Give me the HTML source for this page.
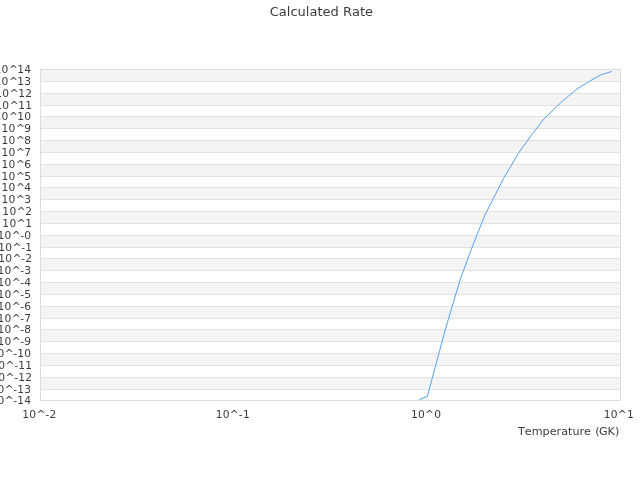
<!DOCTYPE html>
<html lang="en"><head><meta charset="utf-8"><title>Calculated Rate</title>
<style>html,body{margin:0;padding:0;background:#fff;overflow:hidden}svg{display:block;will-change:transform}text{font-kerning:none;font-family:"DejaVu Sans","Liberation Sans",sans-serif;fill:#3c3c3c}.t{font-size:10.67px;letter-spacing:0.23px}</style></head><body>
<svg width="640" height="480" viewBox="0 0 640 480">
<rect x="0" y="0" width="640" height="480" fill="#ffffff"/>
<rect x="40" y="69" width="580" height="12" fill="#f4f4f4" shape-rendering="crispEdges"/>
<rect x="40" y="93" width="580" height="12" fill="#f4f4f4" shape-rendering="crispEdges"/>
<rect x="40" y="116" width="580" height="12" fill="#f4f4f4" shape-rendering="crispEdges"/>
<rect x="40" y="140" width="580" height="12" fill="#f4f4f4" shape-rendering="crispEdges"/>
<rect x="40" y="164" width="580" height="12" fill="#f4f4f4" shape-rendering="crispEdges"/>
<rect x="40" y="187" width="580" height="12" fill="#f4f4f4" shape-rendering="crispEdges"/>
<rect x="40" y="211" width="580" height="12" fill="#f4f4f4" shape-rendering="crispEdges"/>
<rect x="40" y="235" width="580" height="12" fill="#f4f4f4" shape-rendering="crispEdges"/>
<rect x="40" y="258" width="580" height="12" fill="#f4f4f4" shape-rendering="crispEdges"/>
<rect x="40" y="282" width="580" height="12" fill="#f4f4f4" shape-rendering="crispEdges"/>
<rect x="40" y="306" width="580" height="12" fill="#f4f4f4" shape-rendering="crispEdges"/>
<rect x="40" y="329" width="580" height="12" fill="#f4f4f4" shape-rendering="crispEdges"/>
<rect x="40" y="353" width="580" height="12" fill="#f4f4f4" shape-rendering="crispEdges"/>
<rect x="40" y="377" width="580" height="12" fill="#f4f4f4" shape-rendering="crispEdges"/>
<rect x="40" y="69" width="581" height="1" fill="#dcdcdc" shape-rendering="crispEdges"/>
<rect x="40" y="81" width="581" height="1" fill="#e2e2e2" shape-rendering="crispEdges"/>
<rect x="40" y="93" width="581" height="1" fill="#e2e2e2" shape-rendering="crispEdges"/>
<rect x="40" y="105" width="581" height="1" fill="#e2e2e2" shape-rendering="crispEdges"/>
<rect x="40" y="116" width="581" height="1" fill="#e2e2e2" shape-rendering="crispEdges"/>
<rect x="40" y="128" width="581" height="1" fill="#e2e2e2" shape-rendering="crispEdges"/>
<rect x="40" y="140" width="581" height="1" fill="#e2e2e2" shape-rendering="crispEdges"/>
<rect x="40" y="152" width="581" height="1" fill="#e2e2e2" shape-rendering="crispEdges"/>
<rect x="40" y="164" width="581" height="1" fill="#e2e2e2" shape-rendering="crispEdges"/>
<rect x="40" y="176" width="581" height="1" fill="#e2e2e2" shape-rendering="crispEdges"/>
<rect x="40" y="187" width="581" height="1" fill="#e2e2e2" shape-rendering="crispEdges"/>
<rect x="40" y="199" width="581" height="1" fill="#e2e2e2" shape-rendering="crispEdges"/>
<rect x="40" y="211" width="581" height="1" fill="#e2e2e2" shape-rendering="crispEdges"/>
<rect x="40" y="223" width="581" height="1" fill="#e2e2e2" shape-rendering="crispEdges"/>
<rect x="40" y="235" width="581" height="1" fill="#e2e2e2" shape-rendering="crispEdges"/>
<rect x="40" y="247" width="581" height="1" fill="#e2e2e2" shape-rendering="crispEdges"/>
<rect x="40" y="258" width="581" height="1" fill="#e2e2e2" shape-rendering="crispEdges"/>
<rect x="40" y="270" width="581" height="1" fill="#e2e2e2" shape-rendering="crispEdges"/>
<rect x="40" y="282" width="581" height="1" fill="#e2e2e2" shape-rendering="crispEdges"/>
<rect x="40" y="294" width="581" height="1" fill="#e2e2e2" shape-rendering="crispEdges"/>
<rect x="40" y="306" width="581" height="1" fill="#e2e2e2" shape-rendering="crispEdges"/>
<rect x="40" y="318" width="581" height="1" fill="#e2e2e2" shape-rendering="crispEdges"/>
<rect x="40" y="329" width="581" height="1" fill="#e2e2e2" shape-rendering="crispEdges"/>
<rect x="40" y="341" width="581" height="1" fill="#e2e2e2" shape-rendering="crispEdges"/>
<rect x="40" y="353" width="581" height="1" fill="#e2e2e2" shape-rendering="crispEdges"/>
<rect x="40" y="365" width="581" height="1" fill="#e2e2e2" shape-rendering="crispEdges"/>
<rect x="40" y="377" width="581" height="1" fill="#e2e2e2" shape-rendering="crispEdges"/>
<rect x="40" y="389" width="581" height="1" fill="#e2e2e2" shape-rendering="crispEdges"/>
<rect x="40" y="400" width="581" height="1" fill="#dcdcdc" shape-rendering="crispEdges"/>
<rect x="40" y="69" width="1" height="332" fill="#dcdcdc" shape-rendering="crispEdges"/>
<rect x="620" y="69" width="1" height="332" fill="#dcdcdc" shape-rendering="crispEdges"/>
<text class="t" x="31.08" y="72.60" dx="0.3 0 0.45 -0.75" text-anchor="end">10^14</text>
<text class="t" x="31.08" y="84.60" dx="0.3 0 0.45 -0.75" text-anchor="end">10^13</text>
<text class="t" x="31.98" y="96.60" dx="0.3 0 0.45 -0.75" text-anchor="end">10^12</text>
<text class="t" x="31.98" y="108.60" dx="0.3 0 0.45 -0.75" text-anchor="end">10^11</text>
<text class="t" x="31.08" y="119.60" dx="0.3 0 0.45 -0.75" text-anchor="end">10^10</text>
<text class="t" x="31.08" y="131.60" dx="0.3 0 0.45 -0.75" text-anchor="end">10^9</text>
<text class="t" x="31.08" y="143.60" dx="0.3 0 0.45 -0.75" text-anchor="end">10^8</text>
<text class="t" x="31.08" y="155.60" dx="0.3 0 0.45 -0.75" text-anchor="end">10^7</text>
<text class="t" x="31.08" y="167.60" dx="0.3 0 0.45 -0.75" text-anchor="end">10^6</text>
<text class="t" x="31.08" y="179.60" dx="0.3 0 0.45 -0.75" text-anchor="end">10^5</text>
<text class="t" x="31.08" y="190.60" dx="0.3 0 0.45 -0.75" text-anchor="end">10^4</text>
<text class="t" x="31.08" y="202.60" dx="0.3 0 0.45 -0.75" text-anchor="end">10^3</text>
<text class="t" x="31.98" y="214.60" dx="0.3 0 0.45 -0.75" text-anchor="end">10^2</text>
<text class="t" x="31.98" y="226.60" dx="0.3 0 0.45 -0.75" text-anchor="end">10^1</text>
<text class="t" x="31.08" y="238.60" dx="0.3 0 0.25 -0.55" text-anchor="end">10^-0</text>
<text class="t" x="31.98" y="250.60" dx="0.3 0 0.25 -0.55" text-anchor="end">10^-1</text>
<text class="t" x="31.98" y="261.60" dx="0.3 0 0.25 -0.55" text-anchor="end">10^-2</text>
<text class="t" x="31.08" y="273.60" dx="0.3 0 0.25 -0.55" text-anchor="end">10^-3</text>
<text class="t" x="31.08" y="285.60" dx="0.3 0 0.25 -0.55" text-anchor="end">10^-4</text>
<text class="t" x="31.08" y="297.60" dx="0.3 0 0.25 -0.55" text-anchor="end">10^-5</text>
<text class="t" x="31.08" y="309.60" dx="0.3 0 0.25 -0.55" text-anchor="end">10^-6</text>
<text class="t" x="31.08" y="321.60" dx="0.3 0 0.25 -0.55" text-anchor="end">10^-7</text>
<text class="t" x="31.08" y="332.60" dx="0.3 0 0.25 -0.55" text-anchor="end">10^-8</text>
<text class="t" x="31.08" y="344.60" dx="0.3 0 0.25 -0.55" text-anchor="end">10^-9</text>
<text class="t" x="31.08" y="356.60" dx="0.3 0 0.25 -0.55" text-anchor="end">10^-10</text>
<text class="t" x="31.98" y="368.60" dx="0.3 0 0.25 -0.55" text-anchor="end">10^-11</text>
<text class="t" x="31.98" y="380.60" dx="0.3 0 0.25 -0.55" text-anchor="end">10^-12</text>
<text class="t" x="31.08" y="392.60" dx="0.3 0 0.25 -0.55" text-anchor="end">10^-13</text>
<text class="t" x="31.08" y="403.60" dx="0.3 0 0.25 -0.55" text-anchor="end">10^-14</text>
<text class="t" x="39.50" y="417.5" text-anchor="middle">10^-2</text>
<text class="t" x="232.83" y="417.5" text-anchor="middle">10^-1</text>
<text class="t" x="426.17" y="417.5" text-anchor="middle">10^0</text>
<text class="t" x="618.90" y="417.5" text-anchor="middle">10^1</text>
<text x="518" y="434.5" dx="0 0 0 0 0 0 0 0 0 0 0 0 0.7 -0.7" font-size="10.67" textLength="101.3" lengthAdjust="spacingAndGlyphs">Temperature (GK)</text>
<text x="269.7" y="16.2" font-size="12" textLength="103.4" lengthAdjust="spacingAndGlyphs">Calculated Rate</text>
<polyline fill="none" stroke="#56a0ee" stroke-width="1" stroke-linejoin="round" stroke-linecap="butt" points="419.30,399.55 427.35,396.45 445.40,329.20 460.70,278.00 473.65,243.20 484.90,215.10 503.60,178.40 518.90,152.50 531.85,134.60 543.06,119.90 561.80,101.65 577.10,88.90 590.05,80.85 601.26,74.65 611.80,71.40"/>
</svg></body></html>
